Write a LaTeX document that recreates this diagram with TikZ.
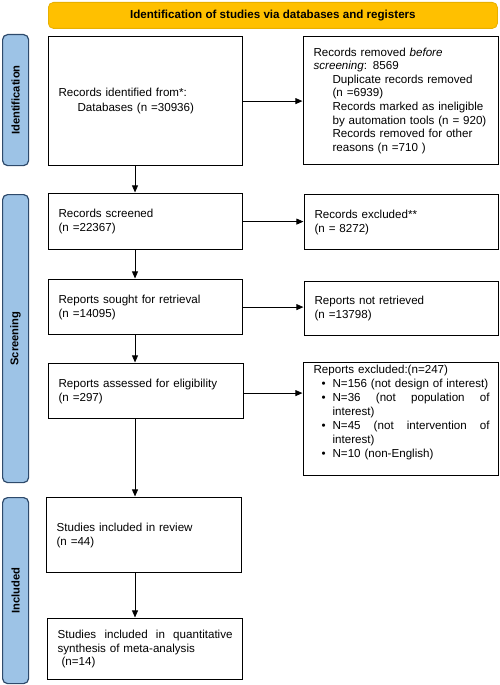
\documentclass[tikz,border=0pt]{standalone}
\usepackage{fontspec}
\setmainfont{Liberation Sans}
\usetikzlibrary{arrows.meta,calc}
\definecolor{hdr}{HTML}{FFC000}
\definecolor{hdrb}{HTML}{E8B000}
\definecolor{side}{HTML}{9DC3E6}
\definecolor{sideb}{HTML}{2E4A6B}
\begin{document}
\begin{tikzpicture}[x=1pt,y=-1pt,
  box/.style={draw=black, line width=1.2pt, anchor=north west, inner xsep=10pt, inner ysep=0pt,
    align=left, font=\fontsize{11.6}{14}\selectfont},
  sidebar/.style={draw=sideb, fill=side, line width=1.2pt, rounded corners=5pt, anchor=north west,
    inner sep=0pt, minimum width=26pt},
  sidelabel/.style={rotate=90, font=\bfseries\fontsize{11.2}{12}\selectfont},
  arr/.style={-{Triangle[length=7pt,width=6pt]}, line width=0.7pt, shorten >=0.6pt}]
\useasboundingbox (0,0) rectangle (500,685);
% header
\node[draw=hdrb, fill=hdr, line width=0.8pt, rounded corners=5pt, anchor=north west, minimum width=449pt,
  minimum height=26pt, inner sep=0pt, font=\bfseries\fontsize{11.6}{12}\selectfont] (hdr) at (48,2)
  {Identification of studies via databases and registers};
% side bars
\node[sidebar, minimum height=131pt] (sid) at (2,34) {};
\node[sidelabel] (lid) at (sid.center) {Identification};
\node[sidebar, minimum height=288pt] (sscr) at (2,194) {};
\node[sidelabel] (lscr) at (sscr.center) {Screening};
\node[sidebar, minimum height=186pt] (sinc) at (2,497) {};
\node[sidelabel] (linc) at (sinc.center) {Included};
% boxes
\node[box, minimum width=194pt, minimum height=129pt, text width=174pt, font=\fontsize{11.6}{14.3}\selectfont] (id) at (48,36)
  {Records identified from*:\\\hspace*{19pt}Databases (n =30936)};
\node[box, minimum width=195pt, minimum height=128pt, text width=175pt, font=\fontsize{11.6}{13.6}\selectfont] (rem) at (303,36)
  {Records removed \textit{before}\\\textit{screening}: 8569\\
   \hspace*{19pt}Duplicate records removed\\\hspace*{19pt}(n =6939)\\
   \hspace*{19pt}Records marked as ineligible\\\hspace*{19pt}by automation tools (n = 920)\\
   \hspace*{19pt}Records removed for other\\\hspace*{19pt}reasons (n =710 )};
\node[box, minimum width=194pt, minimum height=56pt, text width=174pt] (scr) at (48,193)
  {Records screened\\(n =22367)};
\node[box, minimum width=194pt, minimum height=55pt, text width=174pt] (exc) at (304,194)
  {Records excluded**\\(n = 8272)};
\node[box, minimum width=194pt, minimum height=55pt, text width=174pt] (sou) at (48,279)
  {Reports sought for retrieval\\(n =14095)};
\node[box, minimum width=194pt, minimum height=54pt, text width=174pt] (nre) at (304,281)
  {Reports not retrieved\\(n =13798)};
\node[box, minimum width=195pt, minimum height=55pt, text width=175pt] (ass) at (48,363)
  {Reports assessed for eligibility\\(n =297)};
\node[box, minimum width=195pt, minimum height=113pt, text width=175pt, font=\fontsize{11.6}{14}\selectfont] (rex) at (303,362)
  {Reports excluded:(n=247)\\
   \makebox[19pt][l]{\hspace*{8pt}\textbullet}N=156 (not design of interest)\\
   \makebox[19pt][l]{\hspace*{8pt}\textbullet}\makebox[157pt][l]{N=36\hfill(not\hfill population\hfill of}\\
   \hspace*{19pt}interest)\\
   \makebox[19pt][l]{\hspace*{8pt}\textbullet}\makebox[157pt][l]{N=45\hfill(not\hfill intervention\hfill of}\\
   \hspace*{19pt}interest)\\
   \makebox[19pt][l]{\hspace*{8pt}\textbullet}N=10 (non-English)\\[2pt]\mbox{}};
\node[box, minimum width=195pt, minimum height=75pt, text width=175pt] (inc) at (46,497)
  {Studies included in review\\(n =44)};
\node[box, minimum width=195pt, minimum height=61pt, text width=175pt, font=\fontsize{11.6}{13.6}\selectfont] (qua) at (47,618)
  {\makebox[175pt][l]{Studies\hfill included\hfill in\hfill quantitative}\\synthesis of meta-analysis\\\hspace*{4pt}(n=14)};
% vertical arrows
\draw[arr] ([xshift=87pt]id.south west) -- ([xshift=87pt]scr.north west);
\draw[arr] ([xshift=87pt]scr.south west) -- ([xshift=87pt]sou.north west);
\draw[arr] ([xshift=87pt]sou.south west) -- ([xshift=87pt]ass.north west);
\draw[arr] ([xshift=87pt]ass.south west) -- ([xshift=89pt]inc.north west);
\draw[arr] ([xshift=89pt]inc.south west) -- ([xshift=88pt]qua.north west);
% horizontal arrows
\draw[arr] (id.east) -- (id.east -| rem.west);
\draw[arr] (scr.east) -- (scr.east -| exc.west);
\draw[arr] (sou.east) -- (sou.east -| nre.west);
\draw[arr] ([yshift=-2pt]ass.east) -- ([yshift=-2pt]ass.east -| rex.west);
\end{tikzpicture}
\end{document}
